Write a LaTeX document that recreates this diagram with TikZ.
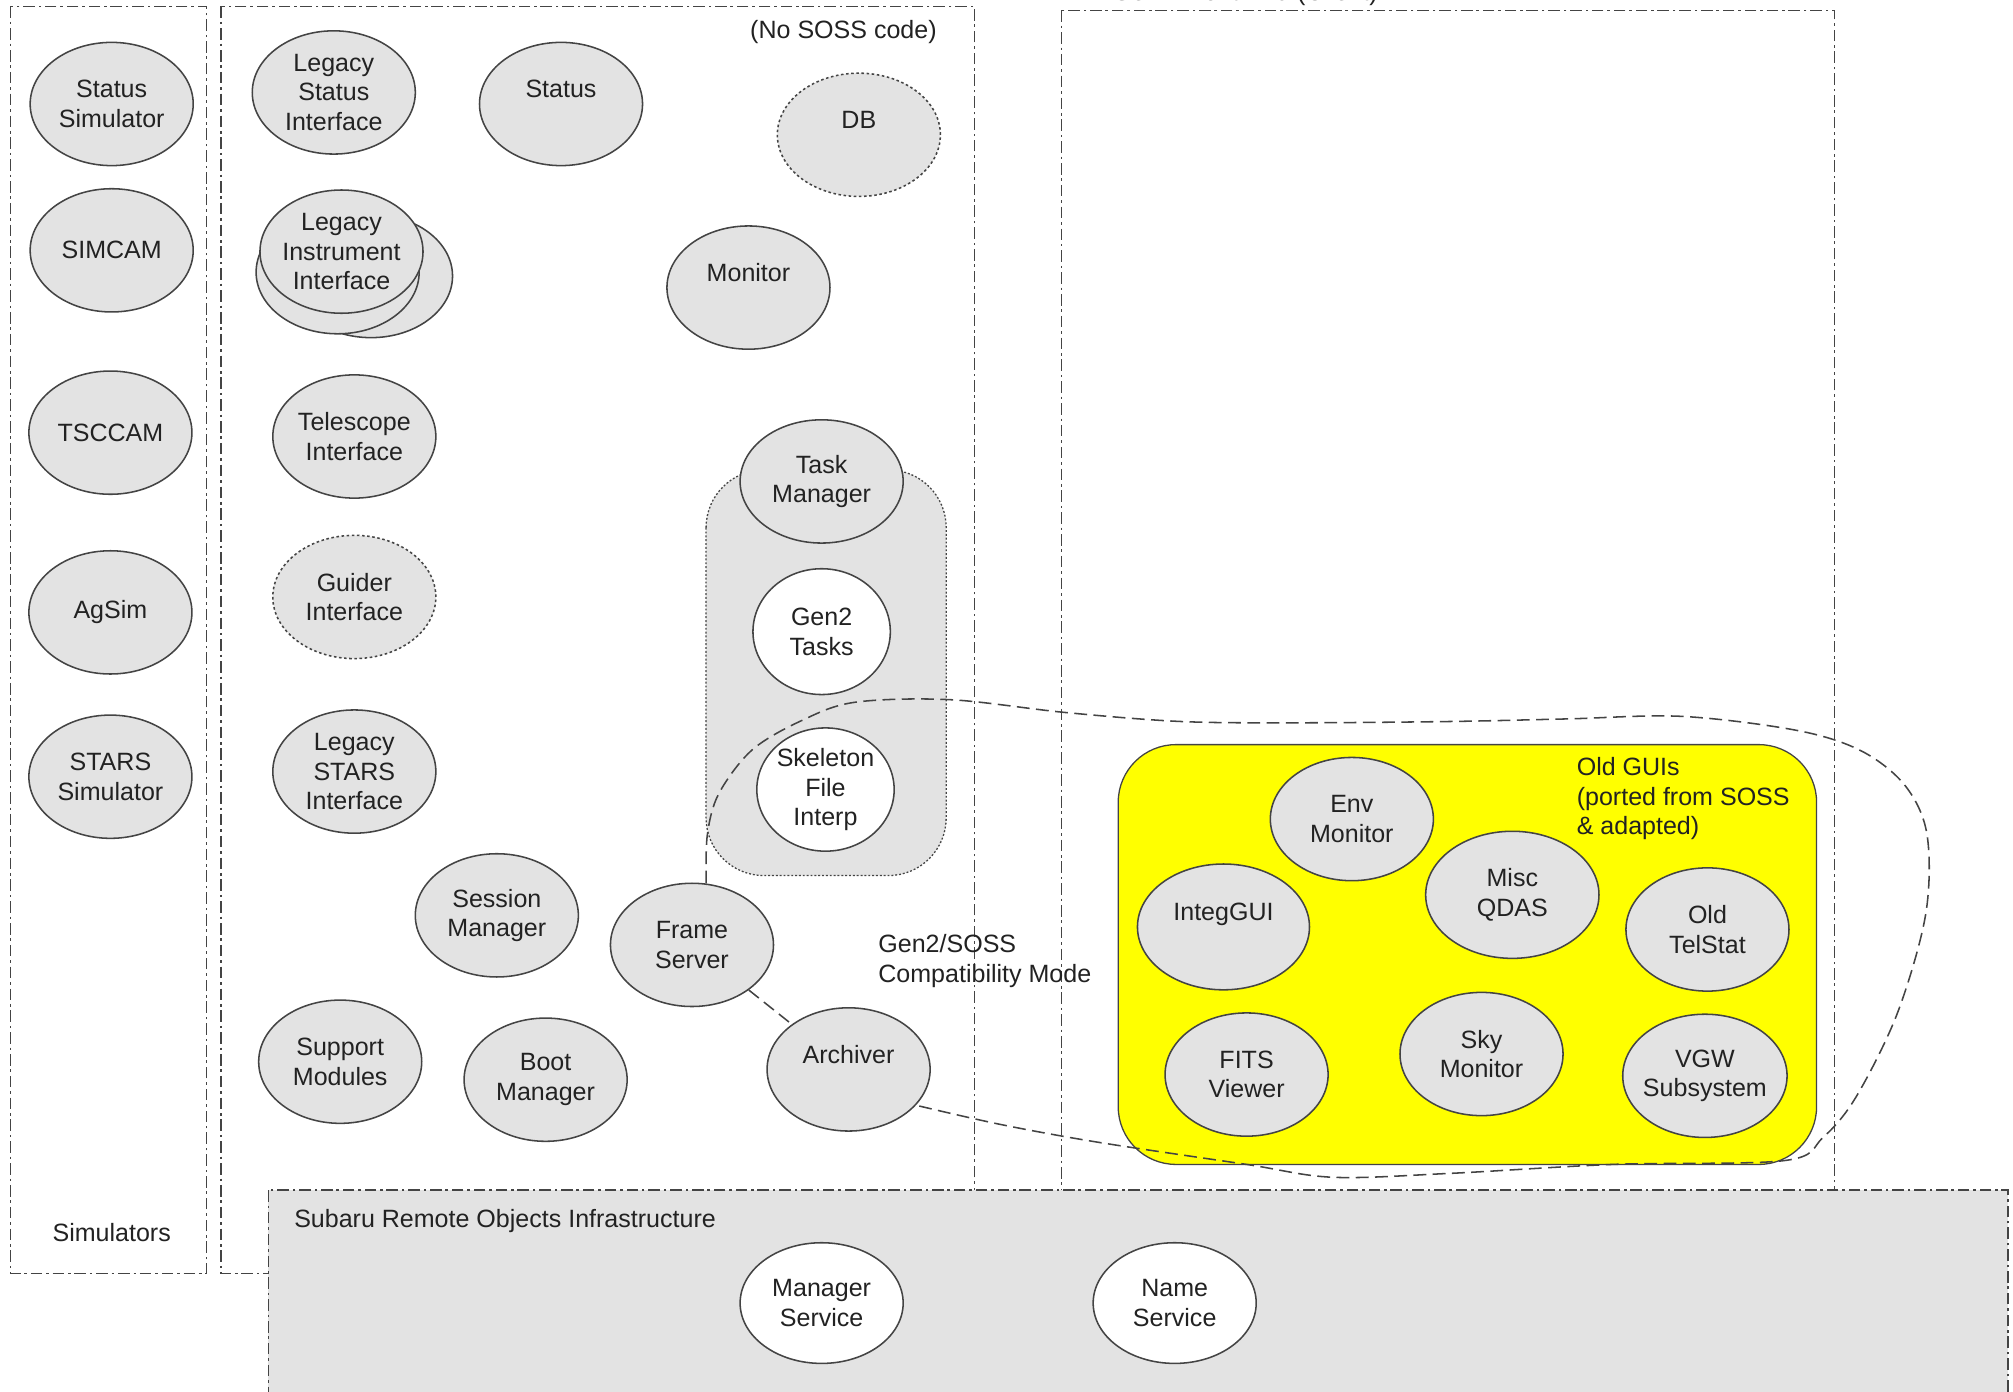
\documentclass[tikz,border=0pt]{standalone}
\usepackage{fontspec}
\setmainfont{Liberation Sans}
\usetikzlibrary{shapes.geometric}
\definecolor{nodegray}{HTML}{E3E3E3}
\definecolor{linegray}{HTML}{444444}
\definecolor{textgray}{HTML}{222222}
\definecolor{guiyellow}{HTML}{FFFF00}
\begin{document}
\begin{tikzpicture}[x=1pt,y=-1pt,
  font=\fontsize{19.5}{23}\selectfont,
  every node/.style={align=center, text=textgray},
  blob/.style={ellipse, draw=linegray, line width=1.2pt, fill=nodegray,
    inner sep=-5pt, minimum width=127pt, minimum height=96pt},
  whiteblob/.style={blob, fill=white},
  dotblob/.style={blob, dash pattern=on 2pt off 2pt},
  zone/.style={draw=linegray, line width=1.2pt, dash pattern=on 9pt off 3pt on 2pt off 3pt},
  compat/.style={draw=linegray, line width=1.2pt, dash pattern=on 10pt off 5pt},
  plain/.style={inner sep=0pt}
]
\useasboundingbox (0,0) rectangle (1568,1084);
\clip (0,0) rectangle (1568,1084);
\fill[white] (0,0) rectangle (1568,1084);

% ---- zones ----
\draw[zone] (8,5) rectangle (161,992);
\draw[zone] (172,5) rectangle (759,992);
\draw[zone] (827,8) rectangle (1429,960);
\node[plain, anchor=base west] (fetitle) at (866,0.5) {Gen2 Front End (Client)};
\node[plain] (nososs) at (657,25) {(No SOSS code)};
\node[plain] (simlabel) at (87,960) {Simulators};

% ---- simulators ----
\node[blob] (ss) at (87,81) {Status\\Simulator};
\node[blob] (simcam) at (87,195) {SIMCAM};
\node[blob] (tsccam) at (86,337) {TSCCAM};
\node[blob] (agsim) at (86,477) {AgSim};
\node[blob] (starssim) at (86,605) {STARS\\Simulator};

% ---- back end ----
\node[blob] (lsi) at (260,72) {Legacy\\Status\\Interface};
\node[blob] (status) at (437,81) {Status\\\phantom{S}};
\node[dotblob] (db) at (669,105) {DB\\\phantom{S}};
\node[blob] (liib) at (289,215) {};
\node[blob] (liia) at (263,212) {};
\node[blob] (lii) at (266,196) {Legacy\\Instrument\\Interface};
\node[blob] (monitor) at (583,224) {Monitor\\\phantom{S}};
\node[blob] (tel) at (276,340) {Telescope\\Interface};
\node[dotblob] (guider) at (276,465) {Guider\\Interface};
\node[blob] (lstars) at (276,601) {Legacy\\STARS\\Interface};
\node[blob] (session) at (387,713) {Session\\Manager};
\node[blob] (fs) at (539,736) {Frame\\Server};
\node[blob] (support) at (265,827) {Support\\Modules};
\node[blob] (boot) at (425,841) {Boot\\Manager};
\node[blob] (arch) at (661,833) {Archiver\\\phantom{S}};

% task manager group
\draw[draw=linegray, line width=1pt, dash pattern=on 1.5pt off 1.5pt, fill=nodegray,
  rounded corners=45pt] (550,366) rectangle (737,682);
\node[blob] (tm) at (640,375) {Task\\Manager};
\node[whiteblob, minimum width=107pt, minimum height=98pt] (g2t) at (640,492) {Gen2\\Tasks};
\node[whiteblob, minimum width=107pt, minimum height=96pt] (sfi) at (643,615) {Skeleton\\File\\Interp};

\node[plain, anchor=west, align=left] (compatlabel) at (684,748.5) {Gen2/SOSS\\Compatibility Mode};

% ---- old GUIs ----
\draw[draw=linegray, line width=1pt, fill=guiyellow, rounded corners=45pt]
  (871,580) rectangle (1415,907);
\node[plain, anchor=west, align=left] (guilabel) at (1228,622)
  {Old GUIs\\(ported from SOSS\\\& adapted)};
\node[blob] (env) at (1053,638) {Env\\Monitor};
\node[blob, minimum width=134pt, minimum height=98pt] (integ) at (953,722) {IntegGUI\\\phantom{S}};
\node[blob, minimum width=135pt, minimum height=99pt] (qdas) at (1178,697) {Misc\\QDAS};
\node[blob] (oldtel) at (1330,724) {Old\\TelStat};
\node[blob] (fits) at (971,837) {FITS\\Viewer};
\node[blob] (sky) at (1154,821) {Sky\\Monitor};
\node[blob, minimum width=128pt] (vgw) at (1328,838) {VGW\\Subsystem};

% ---- compatibility mode boundary ----
\draw[compat] (fs) -- (arch);
\draw[compat] plot[smooth, tension=0.55] coordinates {
  (fs.77) (551,650) (560,618) (586,584) (625,561) (666,547) (740,545)
  (830,555) (920,562) (1010,563) (1129,562) (1220,560) (1310,558) (1400,569)
  (1450,585) (1484,612) (1501,650) (1500,712) (1478,789) (1446,854)
  (1420,886) (1390,904) (1256,907) (1129,914) (1038,917) (971,907)
  (857,890) (780,876) (arch.-28)};

% ---- remote objects infrastructure ----
\draw[zone, fill=nodegray] (209,927) rectangle (1564,1110);
\node[plain, anchor=west] (sori) at (229,951) {Subaru Remote Objects Infrastructure};
\node[whiteblob, minimum height=94pt] (mgr) at (640,1015) {Manager\\Service};
\node[whiteblob, minimum height=94pt] (name) at (915,1015) {Name\\Service};
\end{tikzpicture}
\end{document}
